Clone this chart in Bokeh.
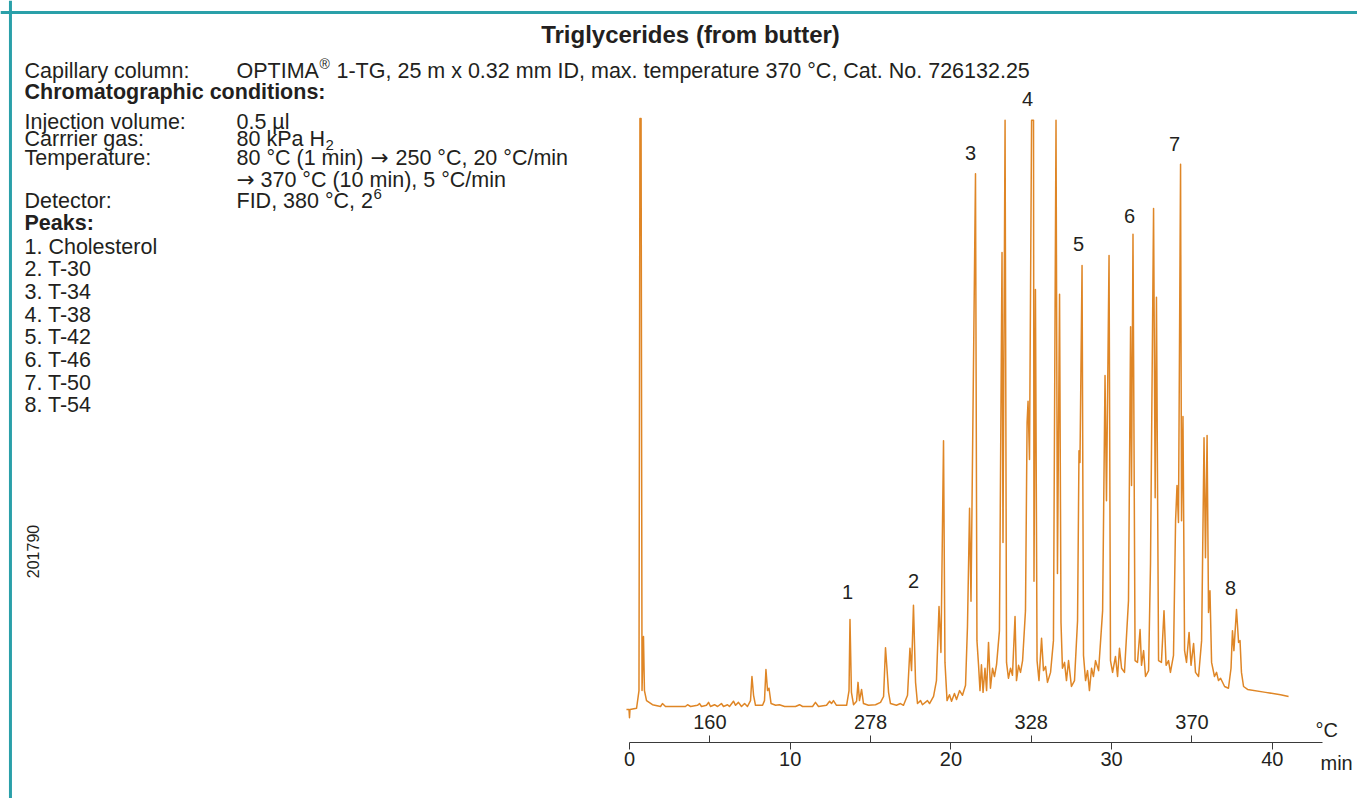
import math
from bokeh.plotting import figure
from bokeh.models import Range1d, LinearAxis, FixedTicker, Label, Span
from bokeh.embed import file_html
from bokeh.resources import INLINE

# ---------------- data ----------------
retention_time = [
    -0.19, -0.03, 0.00, 0.03, 0.44, 0.59, 0.65, 0.72, 0.78, 0.84, 0.87, 0.93, 1.06, 1.43, 1.93,
    2.05, 2.24, 3.48, 3.61, 3.80, 4.23, 4.36, 4.48, 4.79, 4.92, 5.04, 5.29, 5.48, 5.72, 5.85,
    6.10, 6.22, 6.47, 6.60, 6.78, 6.97, 7.16, 7.34, 7.53, 7.62, 7.72, 7.84, 8.28, 8.40, 8.49,
    8.59, 8.68, 8.81, 9.09, 9.33, 9.65, 10.33, 10.58, 10.77, 11.39, 11.57, 11.76, 12.26, 12.45,
    12.57, 12.69, 12.88, 13.51, 13.66, 13.72, 13.81, 13.94, 14.13, 14.22, 14.31, 14.44, 14.56,
    14.87, 15.31, 15.62, 15.81, 15.93, 16.02, 16.12, 16.24, 16.61, 16.86, 17.05, 17.30, 17.45,
    17.55, 17.67, 17.80, 17.92, 18.11, 18.23, 18.54, 18.67, 18.92, 19.10, 19.26, 19.38, 19.54,
    19.63, 19.76, 19.91, 20.04, 20.22, 20.35, 20.54, 20.72, 20.91, 21.03, 21.16, 21.25, 21.53,
    21.62, 21.72, 21.81, 21.90, 22.00, 22.12, 22.22, 22.34, 22.46, 22.59, 22.71, 22.84, 23.02,
    23.18, 23.24, 23.37, 23.46, 23.58, 23.71, 23.83, 23.99, 24.08, 24.21, 24.33, 24.46, 24.64,
    24.74, 24.80, 24.89, 25.02, 25.14, 25.17, 25.26, 25.36, 25.48, 25.64, 25.76, 25.89, 26.01,
    26.20, 26.38, 26.54, 26.63, 26.76, 26.85, 26.94, 27.07, 27.19, 27.32, 27.50, 27.69, 27.88,
    27.97, 28.03, 28.16, 28.25, 28.38, 28.50, 28.62, 28.75, 28.87, 29.00, 29.19, 29.44, 29.59,
    29.68, 29.84, 29.93, 30.06, 30.24, 30.37, 30.49, 30.62, 30.80, 31.05, 31.18, 31.24, 31.33,
    31.46, 31.61, 31.77, 31.86, 31.99, 32.11, 32.30, 32.42, 32.61, 32.71, 32.79, 32.92, 33.10,
    33.26, 33.39, 33.54, 33.66, 33.85, 33.98, 34.07, 34.16, 34.29, 34.35, 34.44, 34.54, 34.66,
    34.82, 34.94, 35.10, 35.22, 35.41, 35.60, 35.75, 35.84, 35.94, 36.03, 36.12, 36.22, 36.40,
    36.53, 36.65, 36.78, 37.03, 37.27, 37.43, 37.52, 37.61, 37.77, 37.90, 37.99, 38.08, 38.21,
    38.46, 39.58, 40.51, 41.01,
]
signal = [
    -0.5, -0.5, -1.9, -0.5, -0.3, 2.7, 100.0, 100.0, 2.7, 9.5, 11.9, 2.7, 1.0, 0.3, 0.0,
    0.5, 0.0, 0.0, 0.3, 0.0, 0.2, 0.5, 0.0, 0.2, 0.7, 0.0, 0.3, 0.0, 0.5, 0.0,
    0.3, 0.0, 0.9, 0.2, 0.7, 0.0, 0.5, 0.0, 1.0, 5.1, 1.9, 0.2, 0.2, 1.0, 6.3,
    2.7, 3.1, 0.5, 0.2, 0.3, 0.0, 0.0, 0.3, 0.0, 0.0, 0.7, 0.0, 0.2, 0.9,
    0.5, 1.0, 0.2, 0.2, 2.7, 14.8, 2.4, 0.3, 0.9, 4.1, 1.0, 2.9, 0.5,
    0.2, 0.3, 0.7, 1.7, 10.0, 6.5, 2.4, 0.5, 0.2, 0.5, 0.2, 1.9, 9.9,
    6.1, 17.2, 4.1, 0.5, 1.0, 0.3, 1.0, 0.5, 1.7, 4.4, 17.0, 9.2, 45.2,
    7.5, 1.0, 2.0, 0.9, 2.2, 1.2, 2.7, 1.9, 3.6, 13.6, 33.7, 17.9, 90.6,
    11.2, 7.0, 2.7, 7.1, 2.4, 6.5, 2.7, 10.9, 3.1, 6.5, 5.1, 7.1, 12.9,
    77.2, 27.9, 99.7, 7.5, 4.8, 6.5, 5.3, 15.3, 4.4, 7.0, 5.8, 7.8, 16.3,
    48.3, 51.9, 42.0, 99.7, 99.7, 21.3, 70.9, 7.8, 4.4, 11.6, 6.1, 6.8, 4.1,
    5.8, 11.2, 99.7, 22.6, 70.1, 14.3, 6.5, 7.5, 4.4, 7.8, 3.4, 4.4, 14.6,
    43.5, 41.5, 75.0, 8.7, 4.4, 6.1, 2.7, 6.5, 5.1, 7.8, 6.1, 16.3, 56.3,
    35.0, 76.7, 7.8, 5.8, 8.5, 5.1, 9.9, 6.5, 5.8, 18.0, 64.6, 37.6, 80.3,
    7.8, 7.5, 13.1, 7.0, 9.5, 5.1, 6.1, 24.3, 84.7, 35.5, 69.6, 7.8, 7.5,
    16.3, 7.0, 7.8, 5.8, 8.7, 31.6, 37.6, 31.3, 92.2, 31.6, 49.3, 9.5, 7.5,
    12.6, 7.0, 10.7, 5.8, 5.1, 11.2, 45.7, 25.3, 46.1, 16.0, 19.7, 7.5, 5.1,
    5.8, 4.4, 4.8, 3.4, 3.1, 6.5, 12.9, 9.5, 16.5, 10.9, 11.2, 5.8, 3.4,
    2.9, 2.4, 2.0, 1.7,
]

peak_numbers = ["1", "2", "3", "4", "5", "6", "7", "8"]
peak_label_time = [13.57, 17.67, 21.22, 24.77, 27.94, 31.11, 33.91, 37.40]
peak_label_signal = [19.4, 21.3, 94.2, 103.4, 78.7, 83.5, 95.7, 20.2]

time_ticks = [0, 10, 20, 30, 40]
temp_tick_times = [5, 15, 25, 35]
temp_tick_labels = ["160", "278", "328", "370"]

peak_names = ["1. Cholesterol", "2. T-30", "3. T-34", "4. T-38", "5. T-42",
              "6. T-46", "7. T-50", "8. T-54"]

# ---------------- styling ----------------
W, H = 1357, 798
FONT = "Liberation Sans"
ARROW_FONT = "DejaVu Sans"
TXT = "#231f20"
ORANGE = "#df8626"
TEAL = "#2aa0a9"
FS = "21.5px"

p = figure(width=W, height=H, output_backend="svg", toolbar_location=None,
           x_range=Range1d(-39.14, 45.30), y_range=Range1d(-15.65, 120.07),
           x_axis_location=None, y_axis_location=None,
           min_border=0, min_border_left=0, min_border_right=0,
           min_border_top=0, min_border_bottom=0)
p.outline_line_color = None
p.grid.visible = False
p.background_fill_color = "white"
p.border_fill_color = "white"

# time axis (drawn inside the frame at a fixed signal level)
ax = LinearAxis(ticker=FixedTicker(ticks=time_ticks, minor_ticks=temp_tick_times),
                bounds=(0, 43.12), fixed_location=-6.12)
ax.axis_line_color = "#3a3a3a"
ax.axis_line_width = 1.2
ax.major_tick_line_color = "#3a3a3a"
ax.minor_tick_line_color = "#3a3a3a"
ax.major_tick_in = 0
ax.major_tick_out = 7
ax.minor_tick_in = 7
ax.minor_tick_out = 0
ax.major_label_standoff = 3
ax.major_label_text_font = FONT
ax.major_label_text_font_size = "20px"
ax.major_label_text_color = TXT
p.add_layout(ax, "below")

# chromatogram trace
p.line(retention_time, signal, line_color=ORANGE, line_width=1.5, line_join="round")

# frame decoration (teal border)
p.add_layout(Span(location=118.03, dimension="width", line_color=TEAL, line_width=3))
p.add_layout(Span(location=-38.52, dimension="height", line_color=TEAL, line_width=3))


def sy(y):
    return H - y


def lab(x, y, text, size=FS, bold=False, align="left", angle=0.0, color=TXT, font=FONT):
    p.add_layout(Label(x=x, y=sy(y), x_units="screen", y_units="screen", text=text,
                       text_font=font, text_font_size=size, text_color=color,
                       text_font_style="bold" if bold else "normal",
                       text_align=align, text_baseline="middle", angle=angle))


# peak numbers
for name, t, s in zip(peak_numbers, peak_label_time, peak_label_signal):
    p.add_layout(Label(x=t, y=s, text=name, text_font=FONT, text_font_size="20px",
                       text_color=TXT, text_align="center", text_baseline="middle"))

# temperature labels above minor ticks
for t, txt in zip(temp_tick_times, temp_tick_labels):
    p.add_layout(Label(x=t, y=sy(721), y_units="screen", text=txt, text_font=FONT,
                       text_font_size="20px", text_color=TXT, text_align="center",
                       text_baseline="middle"))
lab(1315, 729, "°C", size="20px")
lab(1320, 762, "min", size="20px")

# title & conditions
lab(690, 34, "Triglycerides (from butter)", size="24px", bold=True, align="center")
VX = 236
lab(24, 70, "Capillary column:")
lab(VX, 70, "OPTIMA")
lab(VX + 83, 63, "®", size="14px")
lab(VX + 100, 70, "1-TG, 25 m x 0.32 mm ID, max. temperature 370 °C, Cat. No. 726132.25")
lab(24, 91, "Chromatographic conditions:", bold=True)
lab(24, 121, "Injection volume:")
lab(VX, 121, "0.5 µl")
lab(24, 138, "Carrrier gas:")
lab(VX, 138, "80 kPa H")
lab(VX + 89, 144, "2", size="15px")
lab(24, 157, "Temperature:")
lab(VX, 157, "80 °C (1 min)")
lab(VX + 134, 157, "\u2192", font=ARROW_FONT)
lab(VX + 159, 157, "250 °C, 20 °C/min")
lab(VX, 179, "\u2192", font=ARROW_FONT)
lab(VX + 24, 179, "370 °C (10 min), 5 °C/min")
lab(24, 200, "Detector:")
lab(VX, 200, "FID, 380 °C, 2")
lab(VX + 137, 193, "6", size="15px")
lab(24, 222, "Peaks:", bold=True)
for i, nm in enumerate(peak_names):
    lab(24, 246 + i * 22.7, nm)
lab(32, 551, "201790", size="16px", align="center", angle=math.pi / 2)

open("out.html", "w").write(file_html(p, INLINE))
